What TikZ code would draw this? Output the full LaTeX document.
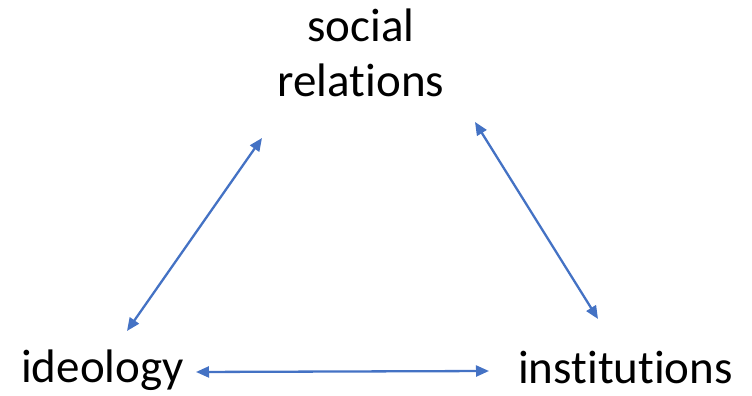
\documentclass[tikz,border=0pt]{standalone}
\usepackage{fontspec}
\setmainfont{Carlito}[Ligatures={NoCommon,NoContextual}]
\usetikzlibrary{arrows.meta}
\definecolor{arrblue}{RGB}{68,114,196}
\begin{document}
\begin{tikzpicture}[x=1pt,y=1pt,
  lbl/.style={font=\fontsize{47}{55}\selectfont, inner sep=0pt, text=black},
  link/.style={draw=arrblue, line width=2.3pt, {Triangle[length=13pt,width=11pt]}-{Triangle[length=13pt,width=11pt]}}]
\useasboundingbox (0,0) rectangle (752,396);
\node[lbl, anchor=base] (soc) at (361,354) {social};
\node[lbl, anchor=base] (rel) at (361,299) {relations};
\node[lbl, anchor=base west] (ideo) at (21,13) {ideology};
\node[lbl, anchor=base west] (inst) at (518,12) {institutions};
\coordinate (l1) at (127,65);
\coordinate (l2) at (262,258);
\coordinate (r1) at (475,274);
\coordinate (r2) at (598,77);
\coordinate (b1) at (196,24);
\coordinate (b2) at (489,25);
\draw[link] (l1) -- (l2);
\draw[link] (r1) -- (r2);
\draw[link] (b1) -- (b2);
\end{tikzpicture}
\end{document}
